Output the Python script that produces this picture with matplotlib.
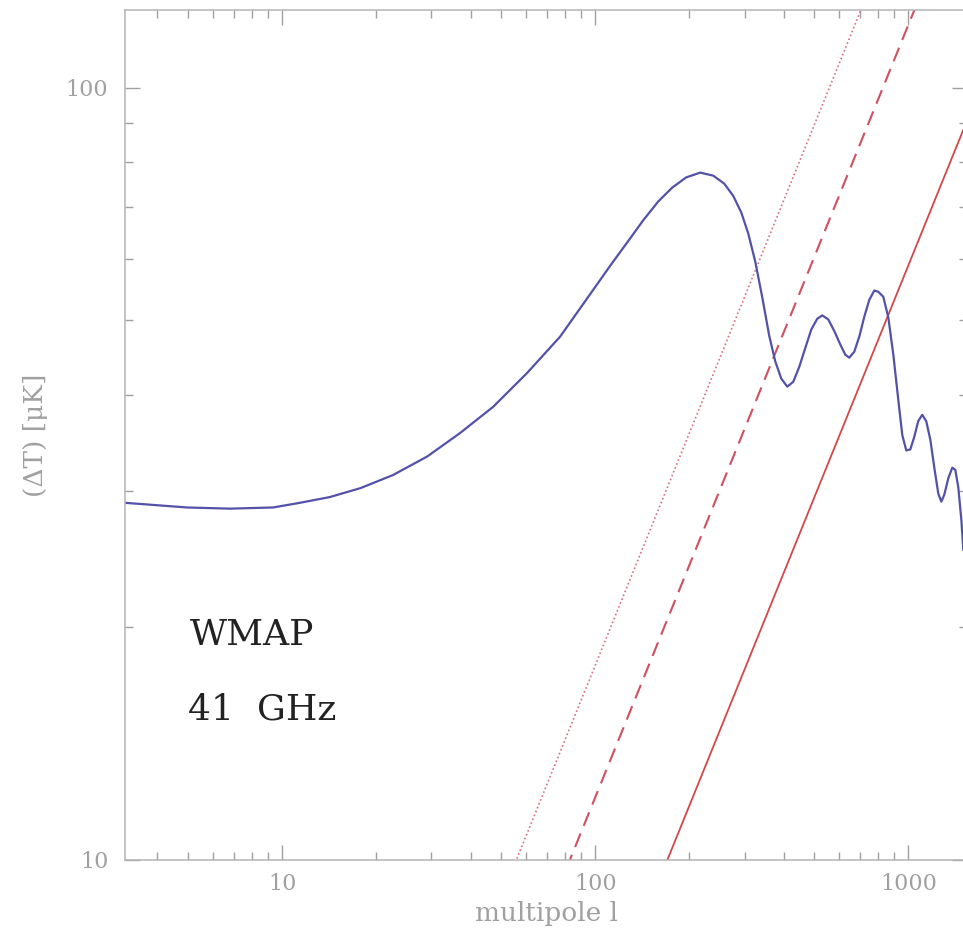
import numpy as np
import matplotlib
matplotlib.use('Agg')
import matplotlib.pyplot as plt
from matplotlib.ticker import LogLocator, NullFormatter, FixedLocator, FixedFormatter

# CMB spectrum: multipole l and (Delta T) in micro K
cmb_l = [3.15, 4.97, 6.82, 9.36, 11.4, 14.2, 17.8, 22.6, 29.1, 37.0, 47.2, 60.6,
         77.3, 98.5, 111.7, 126.5, 142.3, 159.0, 176.2, 195.3, 216.5, 238.2,
         258.3, 276.0, 292.8, 308.3, 324.6, 341.7, 359.7, 376.0, 392.9, 410.7,
         429.2, 448.6, 468.8, 489.9, 512.0, 531.2, 555.2, 580.2, 606.4, 629.1,
         647.9, 672.2, 697.5, 723.6, 750.7, 778.8, 802.1, 832.1, 863.4, 895.8,
         929.3, 956.8, 985.4, 1015, 1045, 1076, 1108, 1141, 1176, 1211, 1247,
         1275, 1303, 1342, 1382, 1413, 1444, 1477, 1499]
cmb_T = [29.0, 28.6, 28.5, 28.6, 29.0, 29.5, 30.3, 31.5, 33.3, 35.7, 38.6, 42.7,
         47.6, 54.7, 58.8, 63.0, 67.3, 71.2, 74.2, 76.5, 77.6, 76.9,
         75.1, 72.4, 68.9, 64.7, 59.5, 53.5, 47.7, 44.2, 42.0, 41.0,
         41.6, 43.5, 46.0, 48.6, 50.2, 50.7, 50.1, 48.4, 46.5, 45.1,
         44.7, 45.5, 47.6, 50.5, 53.1, 54.6, 54.4, 53.6, 50.4, 45.1,
         39.4, 35.5, 33.9, 34.0, 35.3, 37.0, 37.7, 37.0, 35.0, 32.2, 29.8,
         29.1, 29.7, 31.2, 32.2, 32.0, 30.4, 27.6, 25.2]

# noise lines (straight in log-log)
dotted_l = [44.8, 896]
dotted_T = [8, 160]
dashed_l = [66.4, 1328]
dashed_T = [8, 160]
solid_l = [136, 2720]
solid_T = [8, 160]

grey = '#a0a0a0'
fig = plt.figure(figsize=(9.63, 9.31), dpi=100)
ax = fig.add_axes([125 / 963, 71 / 931, 842 / 963, 850 / 931])

ax.plot(dotted_l, dotted_T, color='#d8707e', lw=1.2, linestyle=(0, (1, 1.5)))
ax.plot(dashed_l, dashed_T, color='#cf5060', lw=1.5, linestyle=(0, (7, 4)))
ax.plot(solid_l, solid_T, color='#d24848', lw=1.3)
ax.plot(cmb_l, cmb_T, color='#5252a8', lw=1.6)

ax.set_xscale('log')
ax.set_yscale('log')
ax.set_xlim(3.15, 1540)
ax.set_ylim(10, 126)

ax.xaxis.set_major_locator(FixedLocator([10, 100, 1000]))
ax.xaxis.set_major_formatter(FixedFormatter(['10', '100', '1000']))
ax.yaxis.set_major_locator(FixedLocator([10, 100]))
ax.yaxis.set_major_formatter(FixedFormatter(['10', '100']))
for a in (ax.xaxis, ax.yaxis):
    a.set_minor_locator(LogLocator(base=10, subs=np.arange(2, 10)))
    a.set_minor_formatter(NullFormatter())

ax.tick_params(which='both', direction='in', top=True, right=True,
               color=grey, labelcolor=grey, labelsize=16, width=1.0)
ax.tick_params(which='major', length=11)
ax.tick_params(which='minor', length=6)
ax.tick_params(axis='y', which='major', pad=12)
ax.tick_params(axis='x', which='major', pad=9)
for lab in ax.get_xticklabels() + ax.get_yticklabels():
    lab.set_family('DejaVu Serif')
for sp in ax.spines.values():
    sp.set_color('#b4b4b4')
    sp.set_linewidth(1.1)

ax.set_xlabel('multipole l', color=grey, fontsize=19, family='DejaVu Serif', labelpad=5)
ax.set_ylabel('(ΔT) [μK]', color=grey, fontsize=19, family='DejaVu Serif', labelpad=13)

fig.text(190 / 963, 1 - 645 / 931, 'WMAP', fontsize=26, family='DejaVu Serif',
         color='#222222', va='baseline')
fig.text(188 / 963, 1 - 720 / 931, '41  GHz', fontsize=26, family='DejaVu Serif',
         color='#222222', va='baseline')

fig.savefig('out.png', dpi=100)
